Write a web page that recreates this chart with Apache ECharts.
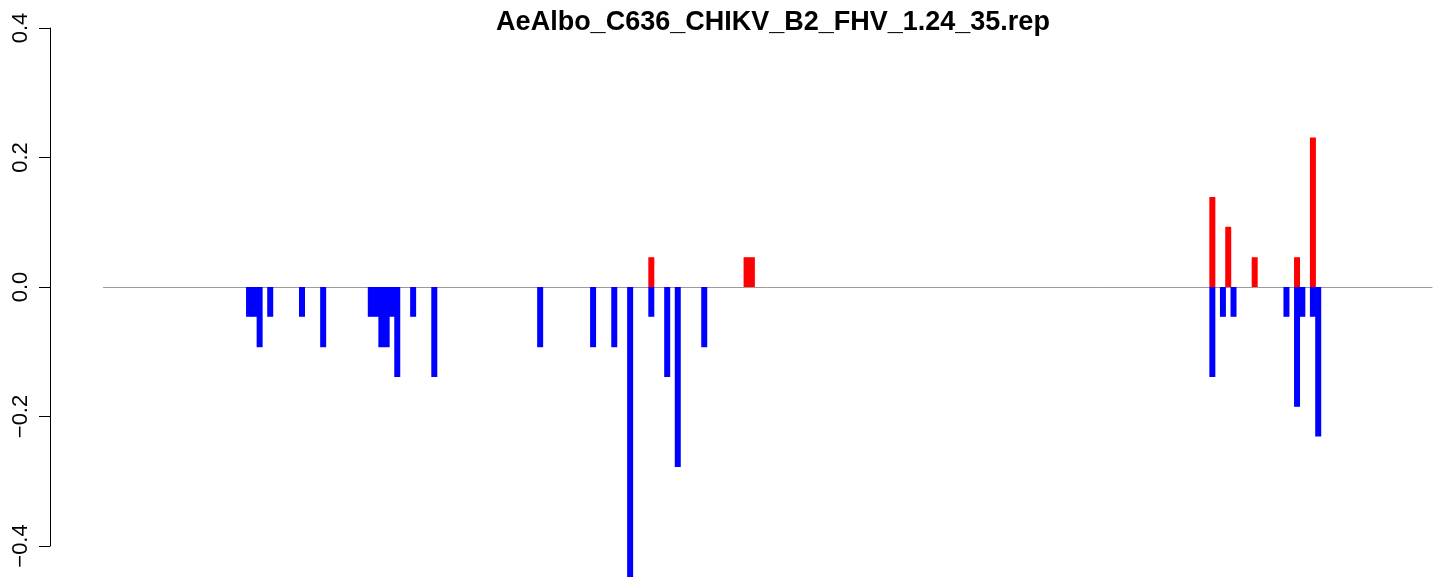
<!DOCTYPE html>
<html>
<head>
<meta charset="utf-8">
<script src="https://cdn.jsdelivr.net/npm/echarts@6/dist/echarts.min.js"></script>
<style>
html,body{margin:0;padding:0;background:#fff;}
#chart{width:1444px;height:577px;}
</style>
</head>
<body>
<div id="chart"></div>
<script>
// Chart title
const chartTitle = 'AeAlbo_C636_CHIKV_B2_FHV_1.24_35.rep';
// Y-axis tick values
const yTicks = [-0.4, -0.2, 0.0, 0.2, 0.4];
// Positions along the sequence (1..251) and values
const minusPos = [28, 29, 30, 32, 38, 42, 51, 52, 53, 54, 55, 56, 59, 63, 83, 93, 97, 100, 104, 107, 109, 114, 210, 212, 214, 224, 226, 227, 229, 230];
const minusVal = [-0.046, -0.046, -0.093, -0.046, -0.046, -0.093, -0.046, -0.046, -0.093, -0.093, -0.046, -0.139, -0.046, -0.139, -0.093, -0.093, -0.093, -0.463, -0.046, -0.139, -0.278, -0.093, -0.139, -0.046, -0.046, -0.046, -0.185, -0.046, -0.046, -0.231];
const plusPos = [104, 122, 123, 210, 213, 218, 226, 229];
const plusVal = [0.046, 0.046, 0.046, 0.139, 0.093, 0.046, 0.046, 0.231];
const seqLength = 251;

const chart = echarts.init(document.getElementById('chart'), null, {renderer: 'canvas'});
const pair = (xs, ys) => xs.map((x, i) => [x, ys[i]]);

chart.setOption({
  animation: false,
  backgroundColor: '#ffffff',
  title: {
    text: chartTitle,
    left: 768,
    top: 4,
    textAlign: 'center',
    textStyle: {fontFamily: 'Liberation Sans', fontWeight: 'bold', fontSize: 27, color: '#000'}
  },
  grid: {left: 103.5, right: 12, top: 28, bottom: 31, containLabel: false},
  xAxis: {
    type: 'value',
    min: 0.5,
    max: seqLength + 0.5,
    axisLine: {show: true, onZero: true, lineStyle: {color: '#9a9a9a', width: 1}},
    axisTick: {show: false},
    axisLabel: {show: false},
    splitLine: {show: false}
  },
  yAxis: {
    type: 'value',
    min: yTicks[0],
    max: yTicks[yTicks.length - 1],
    interval: 0.2,
    offset: 53.5,
    axisLine: {show: true, lineStyle: {color: '#000', width: 1}},
    axisTick: {show: true, length: 11, lineStyle: {color: '#000', width: 1}},
    splitLine: {show: false},
    axisLabel: {
      rotate: 90,
      margin: 18,
      fontFamily: 'Liberation Sans',
      fontSize: 22,
      color: '#000',
      formatter: v => (v < 0 ? '\u2212' : '') + Math.abs(v).toFixed(1)
    }
  },
  series: [
    {
      type: 'bar',
      name: 'minus',
      data: pair(minusPos, minusVal),
      barWidth: 6,
      barGap: '-100%',
      clip: false,
      itemStyle: {color: '#0000ff'}
    },
    {
      type: 'bar',
      name: 'plus',
      data: pair(plusPos, plusVal),
      barWidth: 6,
      barGap: '-100%',
      clip: false,
      itemStyle: {color: '#ff0000'}
    }
  ]
});
</script>
</body>
</html>
